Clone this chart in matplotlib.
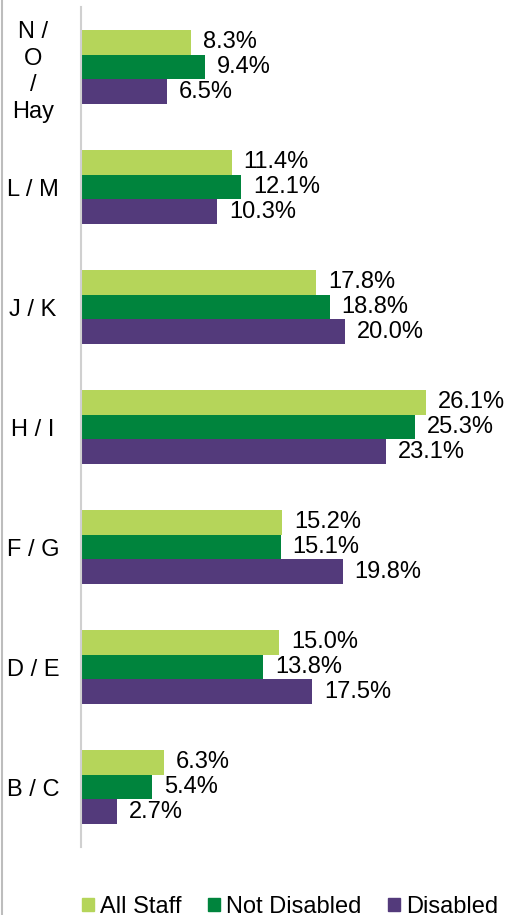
import matplotlib.pyplot as plt
import numpy as np
from matplotlib.lines import Line2D

plt.rcParams['font.family'] = ['Liberation Sans', 'DejaVu Sans']

categories = ['N /\nO\n/\nHay', 'L / M', 'J / K', 'H / I', 'F / G', 'D / E', 'B / C']
all_staff = [8.3, 11.4, 17.8, 26.1, 15.2, 15.0, 6.3]
not_disabled = [9.4, 12.1, 18.8, 25.3, 15.1, 13.8, 5.4]
disabled = [6.5, 10.3, 20.0, 23.1, 19.8, 17.5, 2.7]

series = [('All Staff', all_staff, '#B5D55A'),
          ('Not Disabled', not_disabled, '#00843D'),
          ('Disabled', disabled, '#533A7B')]

fig = plt.figure(figsize=(5.1, 9.15), dpi=100)
ax = fig.add_axes([81 / 510, 1 - 847 / 915, (500 - 81) / 510, 840 / 915])

y = np.arange(len(categories))
h = 0.205
for i, (name, vals, col) in enumerate(series):
    pos = y + (i - 1) * h
    ax.barh(pos, vals, height=h, color=col, label=name)
    for p, v in zip(pos, vals):
        ax.text(v + 0.9, p, f'{v:.1f}%', va='center', ha='left', fontsize=17)

ax.set_ylim(len(categories) - 0.5, -0.5)
ax.set_xlim(0, (500 - 81) / 13.22)
ax.set_yticks(y)
ax.set_yticklabels(categories, fontsize=17, ha='center', linespacing=1.27)
# pad is in points: label centres sit ~48 px left of the axis
ax.tick_params(axis='y', length=0, pad=34.5)
ax.set_xticks([])
for s in ['top', 'right', 'bottom']:
    ax.spines[s].set_visible(False)
ax.spines['left'].set_color('#D0D0D0')
ax.spines['left'].set_linewidth(1.5)

# outer left frame line
fig.add_artist(Line2D([2.0 / 510, 2.0 / 510], [0, 1], color='#BDBDBD', lw=1.5))

handles = [plt.Rectangle((0, 0), 1, 1, color=c) for _, _, c in series]
fig.legend(handles, [n for n, _, _ in series], loc='lower left',
           bbox_to_anchor=(82 / 510, -3 / 915), ncol=3, frameon=False,
           fontsize=17, handlelength=0.5, handleheight=0.5,
           handletextpad=0.25, columnspacing=1.14,
           borderpad=0, borderaxespad=0)

fig.savefig('out.png', dpi=100)
